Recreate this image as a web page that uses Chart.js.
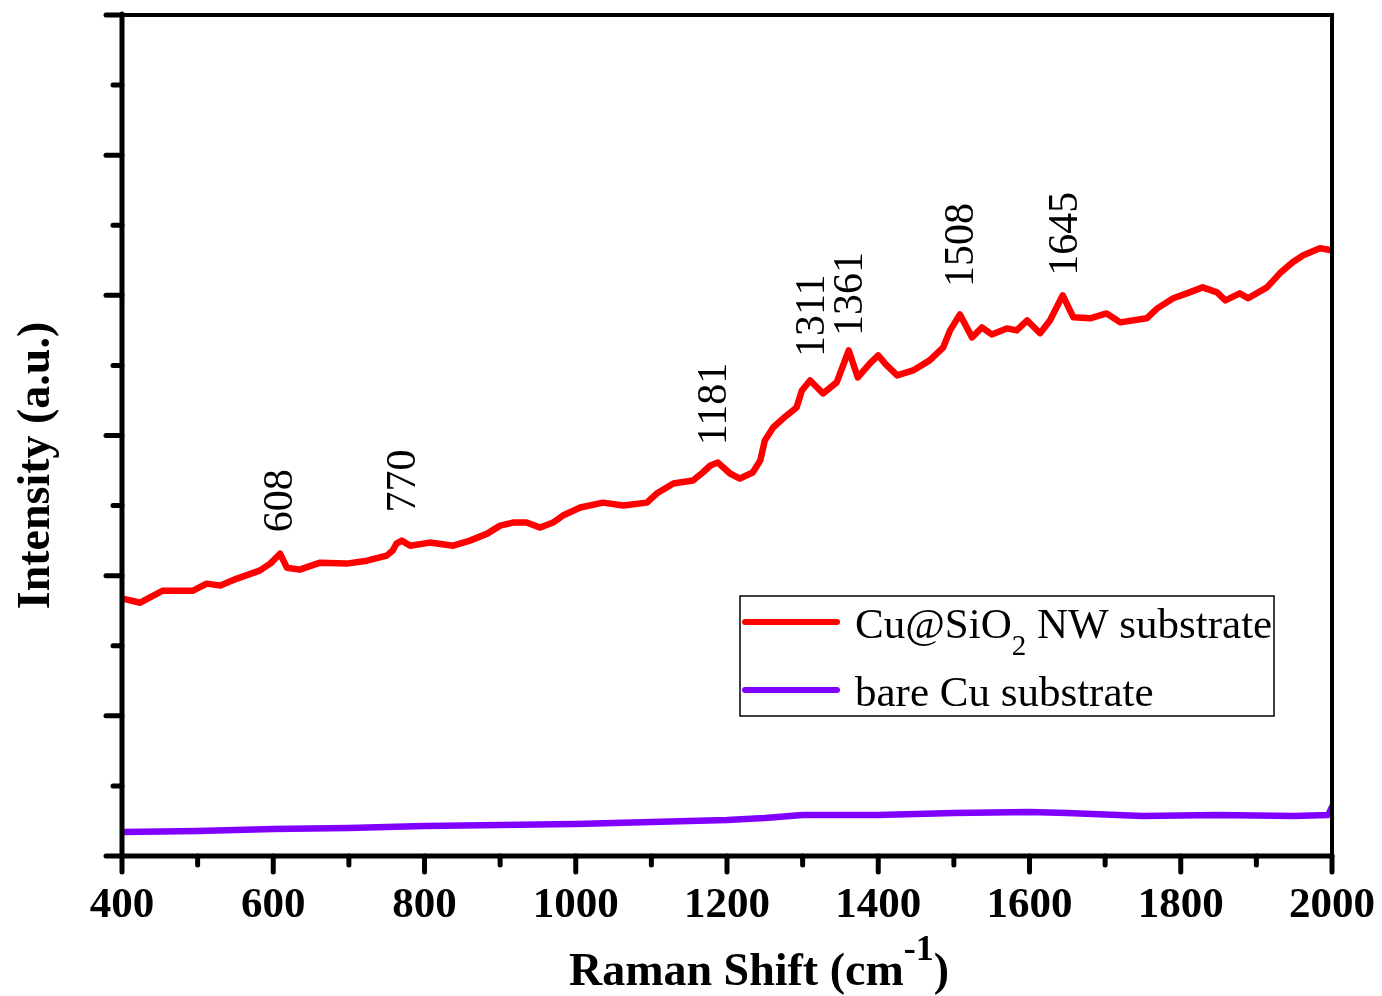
<!DOCTYPE html>
<html>
<head>
<meta charset="utf-8">
<script src="https://cdn.jsdelivr.net/npm/chart.js@4/dist/chart.umd.min.js"></script>
<style>
  html, body { margin: 0; padding: 0; background: #fff; }
  #wrap { width: 1382px; height: 996px; }
</style>
</head>
<body>
<div id="wrap"><canvas id="raman" width="1382" height="996"></canvas></div>
<script>
// Raman shift (cm-1) and intensity (a.u.)
const redShift = [401, 424, 454, 494, 512, 530, 552, 582, 596, 609, 618, 635, 662, 697, 724, 750, 758, 763, 770,
  781, 807, 838, 860, 883, 900, 917, 935, 953, 970, 983, 1006, 1036, 1063, 1094, 1107, 1129, 1155, 1168, 1178,
  1188, 1204, 1217, 1234, 1244, 1250, 1261, 1274, 1292, 1299, 1310, 1327, 1345, 1355, 1361, 1373, 1389, 1400,
  1410, 1425, 1446, 1468, 1486, 1495, 1508, 1524, 1537, 1550, 1570, 1583, 1597, 1614, 1627, 1644, 1658, 1680,
  1702, 1720, 1755, 1769, 1790, 1808, 1829, 1848, 1859, 1878, 1889, 1914, 1931, 1948, 1962, 1984, 2000];
const redInt = [1.836, 1.807, 1.893, 1.893, 1.943, 1.929, 1.979, 2.036, 2.086, 2.157, 2.057, 2.043, 2.093, 2.086,
  2.107, 2.143, 2.179, 2.229, 2.250, 2.214, 2.236, 2.214, 2.250, 2.300, 2.357, 2.379, 2.379, 2.343, 2.379, 2.429,
  2.486, 2.521, 2.500, 2.521, 2.586, 2.657, 2.679, 2.736, 2.786, 2.807, 2.729, 2.693, 2.736, 2.821, 2.964, 3.057,
  3.121, 3.200, 3.321, 3.393, 3.300, 3.379, 3.521, 3.607, 3.414, 3.514, 3.571, 3.507, 3.429, 3.464, 3.536, 3.629,
  3.750, 3.864, 3.700, 3.771, 3.721, 3.764, 3.750, 3.821, 3.729, 3.821, 4.000, 3.843, 3.836, 3.871, 3.807, 3.836,
  3.907, 3.979, 4.014, 4.057, 4.021, 3.964, 4.014, 3.979, 4.057, 4.157, 4.236, 4.286, 4.336, 4.321];

const bareShift = [400, 500, 600, 700, 800, 900, 1000, 1100, 1200, 1250, 1300, 1400, 1500, 1600, 1650, 1750, 1850, 1950, 1995, 2000];
const bareInt = [0.171, 0.179, 0.193, 0.200, 0.214, 0.221, 0.229, 0.243, 0.257, 0.271, 0.293, 0.293, 0.307, 0.314,
  0.307, 0.286, 0.293, 0.286, 0.293, 0.350];

// peak labels: position (shift) and where the rotated label starts (intensity)
const peakShift = [608, 770, 1181, 1311, 1361, 1508, 1645];
const peakLabelY = [2.31, 2.45, 2.93, 3.56, 3.71, 4.06, 4.14];

const xTicks = [400, 600, 800, 1000, 1200, 1400, 1600, 1800, 2000];

const SERIF = '"Liberation Serif", "Times New Roman", serif';
const RED = '#ff0000';
const PURPLE = '#8000ff';

function pts(xs, ys) { return xs.map((x, i) => ({x: x, y: ys[i]})); }

const frame = {
  id: 'frame',
  afterDatasetsDraw(chart) {
    const {ctx, chartArea: a, scales: {x, y}} = chart;
    ctx.save();
    ctx.strokeStyle = '#000';
    ctx.lineCap = 'round';
    // box
    ctx.lineWidth = 4;
    ctx.beginPath();
    ctx.moveTo(a.left, a.top); ctx.lineTo(a.right, a.top); ctx.lineTo(a.right, a.bottom);
    ctx.stroke();
    ctx.lineWidth = 5;
    ctx.beginPath();
    ctx.moveTo(a.left, a.top - 1); ctx.lineTo(a.left, a.bottom); ctx.lineTo(a.right, a.bottom);
    ctx.stroke();
    // x ticks, major every 200, minor every 100
    for (let v = 400; v <= 2000; v += 100) {
      const px = x.getPixelForValue(v);
      const len = v % 200 === 0 ? 16 : 9;
      ctx.beginPath(); ctx.moveTo(px, a.bottom); ctx.lineTo(px, a.bottom + len); ctx.stroke();
    }
    // y ticks, no labels
    for (let v = 0; v <= 6; v += 0.5) {
      const py = y.getPixelForValue(v);
      const len = Math.abs(v % 1) < 1e-6 ? 16 : 9;
      ctx.beginPath(); ctx.moveTo(a.left, py); ctx.lineTo(a.left - len, py); ctx.stroke();
    }

    // peak labels
    ctx.fillStyle = '#000';
    ctx.font = '42px ' + SERIF;
    ctx.textAlign = 'left';
    ctx.textBaseline = 'middle';
    peakShift.forEach((s, i) => {
      ctx.save();
      ctx.translate(x.getPixelForValue(s), y.getPixelForValue(peakLabelY[i]));
      ctx.rotate(-Math.PI / 2);
      ctx.fillText(String(s), 0, 2);
      ctx.restore();
    });

    // legend
    ctx.lineWidth = 1.5;
    ctx.strokeRect(740, 596, 534, 120);
    ctx.lineWidth = 6;
    ctx.strokeStyle = RED;
    ctx.beginPath(); ctx.moveTo(745, 622); ctx.lineTo(837, 622); ctx.stroke();
    ctx.strokeStyle = PURPLE;
    ctx.beginPath(); ctx.moveTo(745, 690); ctx.lineTo(837, 690); ctx.stroke();
    ctx.textBaseline = 'alphabetic';
    ctx.font = '43px ' + SERIF;
    let tx = 855;
    ctx.fillText('Cu@SiO', tx, 638);
    tx += ctx.measureText('Cu@SiO').width;
    ctx.font = '29px ' + SERIF;
    ctx.fillText('2', tx, 655);
    tx += ctx.measureText('2').width;
    ctx.font = '43px ' + SERIF;
    ctx.fillText(' NW substrate', tx, 638);
    ctx.fillText('bare Cu substrate', 855, 706);

    // y title
    ctx.font = 'bold 46px ' + SERIF;
    ctx.textAlign = 'center';
    ctx.save();
    ctx.translate(49, (a.top + a.bottom) / 2 + 30);
    ctx.rotate(-Math.PI / 2);
    ctx.fillText('Intensity (a.u.)', 0, 0);
    ctx.restore();

    // x title with superscript
    ctx.textAlign = 'left';
    const p1 = 'Raman Shift (cm', sup = '-1', p2 = ')';
    ctx.font = 'bold 46px ' + SERIF;
    const w1 = ctx.measureText(p1).width, w3 = ctx.measureText(p2).width;
    ctx.font = 'bold 36px ' + SERIF;
    const w2 = ctx.measureText(sup).width;
    let sx = 759 - (w1 + w2 + w3) / 2;
    ctx.font = 'bold 46px ' + SERIF;
    ctx.fillText(p1, sx, 985);
    ctx.font = 'bold 36px ' + SERIF;
    ctx.fillText(sup, sx + w1, 960);
    ctx.font = 'bold 46px ' + SERIF;
    ctx.fillText(p2, sx + w1 + w2, 985);
    ctx.restore();
  }
};

new Chart(document.getElementById('raman'), {
  type: 'line',
  data: {
    datasets: [
      {label: 'Cu@SiO2 NW substrate', data: pts(redShift, redInt), borderColor: RED, borderWidth: 6.5,
        pointRadius: 0, tension: 0, borderJoinStyle: 'round', borderCapStyle: 'round'},
      {label: 'bare Cu substrate', data: pts(bareShift, bareInt), borderColor: PURPLE, borderWidth: 6.5,
        pointRadius: 0, tension: 0, borderJoinStyle: 'round', borderCapStyle: 'round'}
    ]
  },
  options: {
    responsive: false,
    animation: false,
    layout: {padding: {top: 15, right: 50, left: 0, bottom: 0}},
    plugins: {legend: {display: false}, tooltip: {enabled: false}},
    scales: {
      x: {
        type: 'linear', min: 400, max: 2000,
        afterBuildTicks: s => { s.ticks = xTicks.map(v => ({value: v})); },
        afterFit: s => { s.height = 140; s.paddingLeft = 0; s.paddingRight = 0; },
        grid: {display: false},
        border: {display: false},
        ticks: {
          padding: 16, color: '#000', maxRotation: 0, autoSkip: false,
          callback: v => String(v),
          font: {family: SERIF, size: 43, weight: 'bold'}
        }
      },
      y: {
        type: 'linear', min: 0, max: 6,
        afterFit: s => { s.width = 122; },
        grid: {display: false},
        border: {display: false},
        ticks: {display: false}
      }
    }
  },
  plugins: [frame]
});
</script>
</body>
</html>
